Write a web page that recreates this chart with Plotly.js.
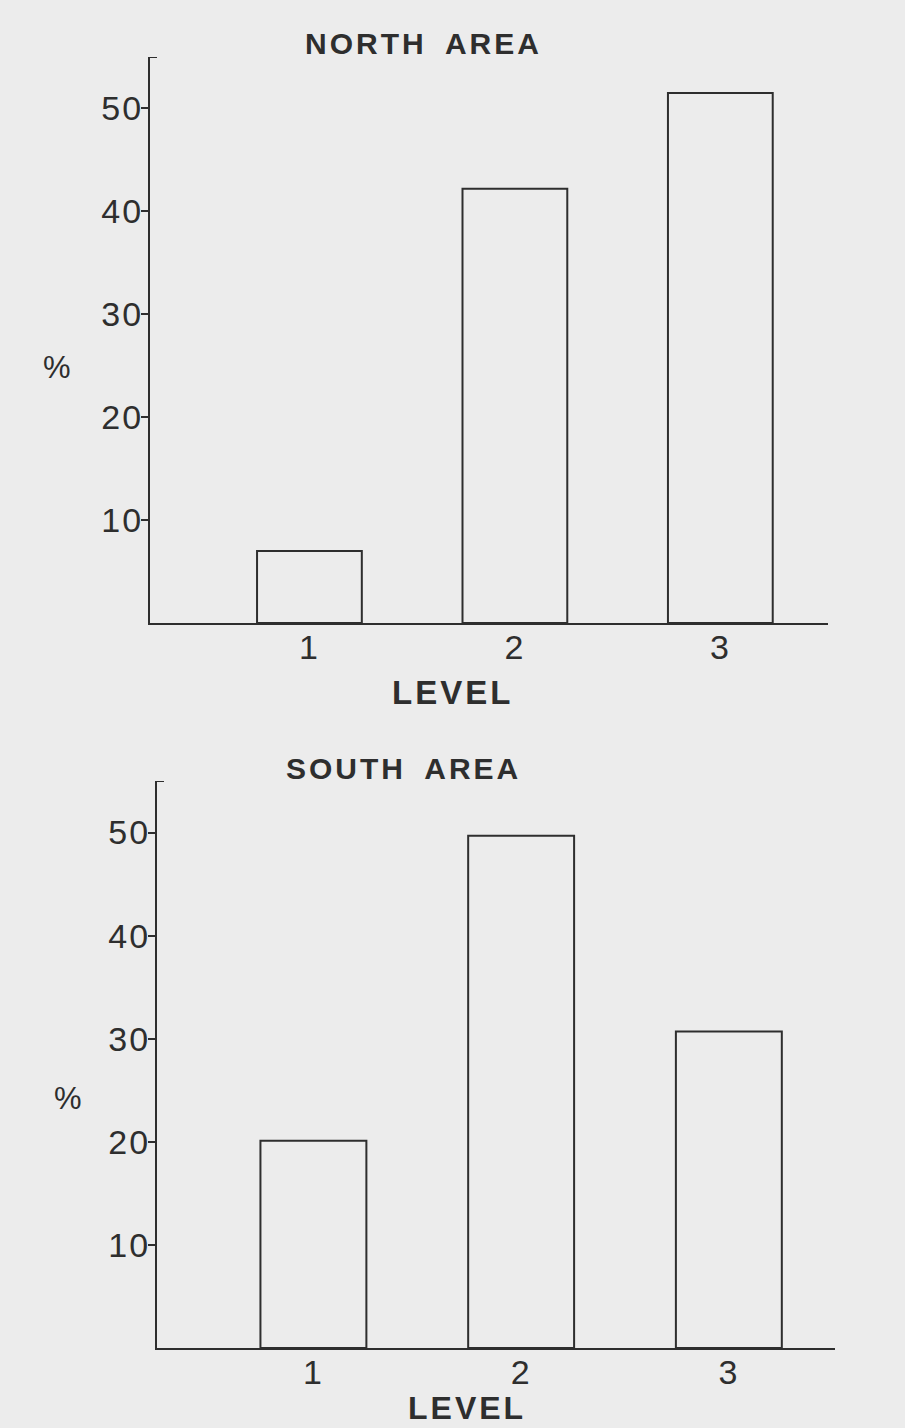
<!DOCTYPE html>
<html>
<head>
<meta charset="utf-8">
<script src="https://cdn.plot.ly/plotly-3.0.1.min.js"></script>
<style>
  html, body { margin: 0; padding: 0; background: #ececec; }
  #chart { width: 905px; height: 1428px; }
  .annotation-text { letter-spacing: 3px; word-spacing: 8px; }
  .xtick text, .x2tick text, .ytick text, .y2tick text { letter-spacing: 2px; }
</style>
</head>
<body>
<div id="chart"></div>
<script>
// ---- data ----
var levels = [1, 2, 3];
var levelLabels = ['1', '2', '3'];
var northValues = [7.0, 42.2, 51.5];
var southValues = [20.1, 49.7, 30.7];
var yTickValues = [10, 20, 30, 40, 50];
var yTickLabels = ['10', '20', '30', '40', '50'];
var northTitle = 'NORTH AREA';
var southTitle = 'SOUTH AREA';
var xTitle = 'LEVEL';
var yTitle = '%';

// ---- styling ----
var W = 905, H = 1428;
var ink = '#2e2e2e';
var bg = '#ececec';
function px(x) { return x / W; }
function py(y) { return 1 - y / H; }

var numFont = { family: 'Liberation Sans, Arial, sans-serif', size: 34, color: ink };
var titleFont = { family: 'Liberation Sans, Arial, sans-serif', size: 30, color: ink, weight: 'bold' };
var levelFont = { family: 'Liberation Sans, Arial, sans-serif', size: 33, color: ink, weight: 'bold' };
var levelFontSouth = { family: 'Liberation Sans, Arial, sans-serif', size: 32, color: ink, weight: 'bold' };
var pctFont = { family: 'Liberation Sans, Arial, sans-serif', size: 31, color: ink };

function barTrace(vals, xa, ya) {
  return {
    type: 'bar', x: levels, y: vals, xaxis: xa, yaxis: ya,
    width: 0.51,
    marker: { color: 'rgba(0,0,0,0)', line: { color: ink, width: 2 } },
    hoverinfo: 'x+y', showlegend: false
  };
}

function xAxis(domain, range, anchor) {
  return {
    domain: domain, range: range, anchor: anchor,
    showline: true, linecolor: ink, linewidth: 2,
    showgrid: false, zeroline: false, ticks: '',
    tickmode: 'array', tickvals: levels, ticktext: levelLabels,
    tickfont: numFont, ticklabelstandoff: -7, fixedrange: true
  };
}
function yAxis(domain, anchor) {
  return {
    domain: domain, range: [0, 55], anchor: anchor,
    showline: true, linecolor: ink, linewidth: 2,
    showgrid: false, zeroline: false,
    ticks: 'outside', ticklen: 7, tickwidth: 2, tickcolor: ink,
    tickmode: 'array', tickvals: yTickValues, ticktext: yTickLabels,
    tickfont: numFont, ticklabelstandoff: -9, fixedrange: true
  };
}

var nXr = [0.224, 3.524], sXr = [0.247, 3.511];

var data = [barTrace(northValues, 'x', 'y'), barTrace(southValues, 'x2', 'y2')];

var layout = {
  width: W, height: H,
  margin: { l: 0, r: 0, t: 0, b: 0 },
  paper_bgcolor: bg, plot_bgcolor: 'rgba(0,0,0,0)',
  showlegend: false,
  xaxis: xAxis([px(150), px(828)], nXr, 'y'),
  yaxis: yAxis([py(623), py(57)], 'x'),
  xaxis2: xAxis([px(157), px(835)], sXr, 'y2'),
  yaxis2: yAxis([py(1348), py(781)], 'x2'),
  shapes: [
    { type: 'line', xref: 'x', yref: 'y', xsizemode: 'pixel', xanchor: nXr[0], x0: 0, x1: 7, y0: 55, y1: 55, line: { color: ink, width: 2 } },
    { type: 'line', xref: 'x2', yref: 'y2', xsizemode: 'pixel', xanchor: sXr[0], x0: 0, x1: 7, y0: 55, y1: 55, line: { color: ink, width: 2 } }
  ],
  annotations: [
    { text: northTitle, xref: 'paper', yref: 'paper', x: px(423), y: py(43), xanchor: 'center', yanchor: 'middle', showarrow: false, font: titleFont },
    { text: xTitle, xref: 'paper', yref: 'paper', x: px(452), y: py(692), xanchor: 'center', yanchor: 'middle', showarrow: false, font: levelFont },
    { text: yTitle, xref: 'paper', yref: 'paper', x: px(58), y: py(368), xanchor: 'center', yanchor: 'middle', showarrow: false, font: pctFont },
    { text: southTitle, xref: 'paper', yref: 'paper', x: px(403), y: py(768), xanchor: 'center', yanchor: 'middle', showarrow: false, font: titleFont },
    { text: xTitle, xref: 'paper', yref: 'paper', x: px(467), y: 0, xanchor: 'center', yanchor: 'bottom', showarrow: false, font: levelFontSouth },
    { text: yTitle, xref: 'paper', yref: 'paper', x: px(69), y: py(1098), xanchor: 'center', yanchor: 'middle', showarrow: false, font: pctFont }
  ]
};

Plotly.newPlot('chart', data, layout, { displayModeBar: false, staticPlot: true });
</script>
</body>
</html>
